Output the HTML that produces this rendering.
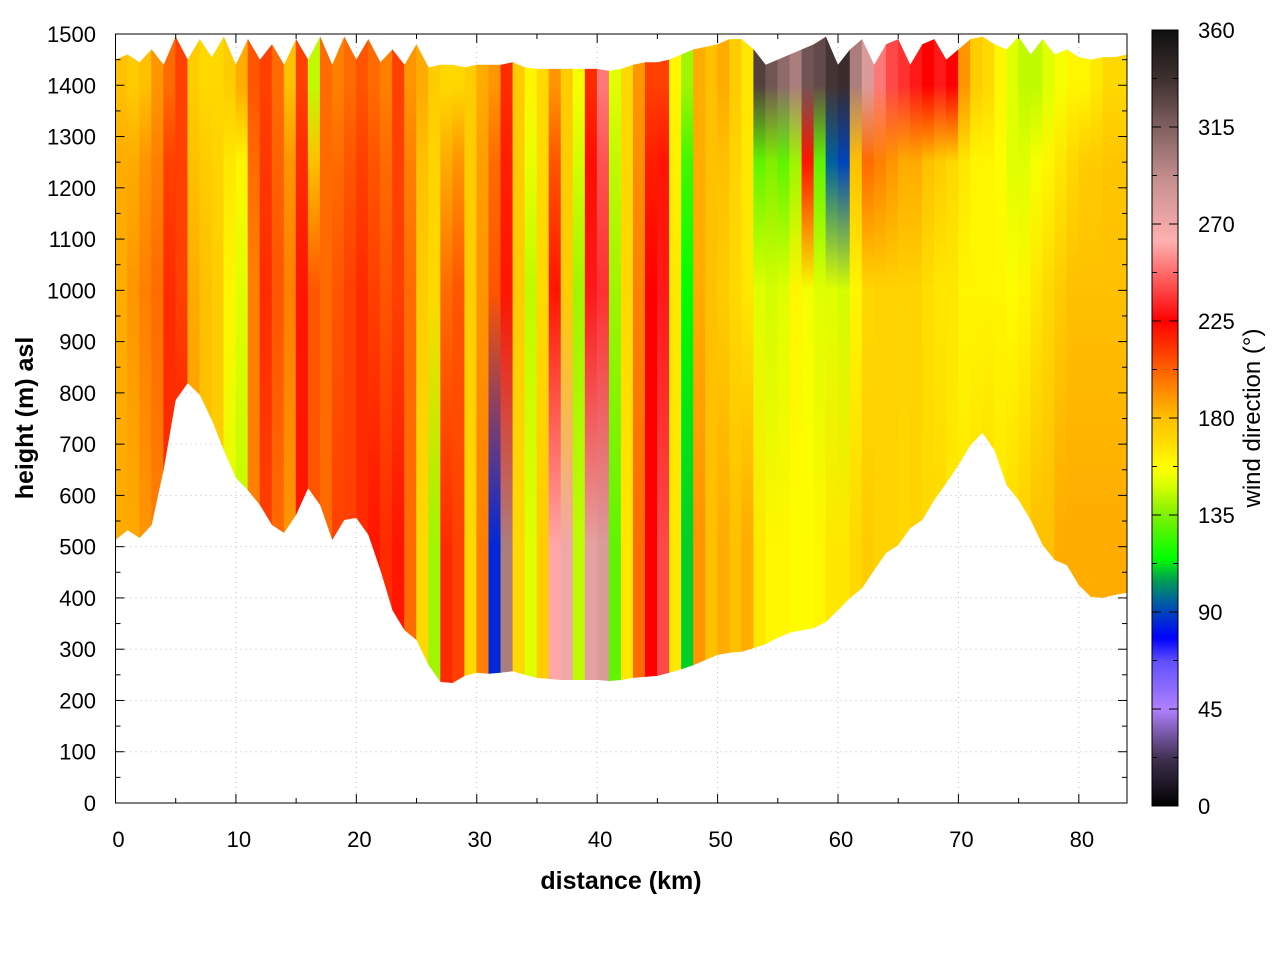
<!DOCTYPE html>
<html><head><meta charset="utf-8"><style>
body{margin:0;background:#fff;}
svg{display:block;font-family:"Liberation Sans",sans-serif;}
</style></head><body>
<svg id="chart" width="1280" height="960" viewBox="0 0 1280 960" xmlns="http://www.w3.org/2000/svg">
<defs id="defs"></defs>
<rect x="0" y="0" width="1280" height="960" fill="#fff"/>
<g id="grid"></g>
<g id="plot"></g>
<g id="axes"></g>
<g id="cbar"></g>
<text x="621" y="889" font-size="25" font-weight="bold" text-anchor="middle">distance (km)</text>
<text transform="translate(33,418) rotate(-90)" font-size="25" font-weight="bold" text-anchor="middle">height (m) asl</text>
<text transform="translate(1260,418) rotate(-90)" font-size="24" text-anchor="middle">wind direction (°)</text>
</svg>
<script>
const terrain=[513,532,517,542,650,786,819,796,747,688,634,610,581,542,527,562,614,581,513,552,556,523,454,376,337,318,269,236,234,248,254,252,254,257,250,244,242,240,240,240,240,238,240,244,246,248,254,261,269,279,289,293,295,302,310,322,332,337,341,353,376,400,419,454,488,503,536,552,591,624,659,698,722,688,620,591,552,503,474,464,425,402,400,406,410];
const topH=[1450,1460,1445,1470,1440,1495,1450,1490,1455,1495,1440,1490,1450,1480,1440,1490,1450,1495,1440,1495,1450,1490,1445,1470,1440,1480,1435,1440,1440,1435,1440,1440,1440,1445,1435,1432,1432,1432,1432,1432,1432,1428,1432,1440,1445,1445,1450,1460,1470,1475,1480,1490,1490,1470,1440,1450,1460,1470,1480,1495,1440,1470,1490,1440,1480,1490,1440,1480,1490,1450,1470,1490,1495,1480,1470,1495,1460,1490,1460,1470,1455,1450,1455,1455,1460];
const dirLow=[185,185,190,195,215,220,190,180,175,150,145,195,210,200,190,220,205,200,210,210,215,220,215,220,200,170,140,215,210,170,195,85,300,170,150,175,260,270,145,275,280,130,165,200,225,240,165,110,190,180,185,180,185,165,160,160,158,158,160,165,165,170,175,172,172,170,172,170,170,165,165,168,170,165,170,175,180,180,185,185,185,185,185,185];
const dirMid=[185,190,195,200,215,210,185,180,175,160,150,195,215,205,195,220,205,200,205,210,215,210,205,210,200,175,170,200,205,175,190,205,220,175,145,170,220,175,140,230,235,140,170,195,225,230,165,115,185,180,175,170,165,150,148,150,160,155,150,150,148,160,170,172,172,172,172,168,165,165,160,160,160,160,158,160,165,170,175,180,180,180,180,180];
const dirUpper=[185,185,190,195,210,210,180,175,172,165,160,200,212,202,190,215,180,200,200,205,210,205,200,210,195,180,172,185,190,175,188,200,218,175,152,170,205,175,148,222,242,145,170,192,218,220,162,125,185,180,180,172,165,130,135,130,140,220,130,95,90,180,200,195,190,185,185,180,175,170,165,160,160,158,150,150,155,160,165,170,175,175,178,178];
const dirHigh=[180,175,180,190,200,210,175,170,170,175,185,205,210,200,180,210,145,200,195,200,205,200,195,210,190,185,175,170,170,175,185,190,215,175,160,170,190,175,155,215,250,150,170,190,210,210,160,140,185,180,185,175,165,330,320,310,300,320,325,335,340,300,280,250,240,235,230,225,230,225,190,175,170,160,150,145,145,150,155,160,160,165,170,170];
const xTicks=[0,10,20,30,40,50,60,70,80];
const yTicks=[0,100,200,300,400,500,600,700,800,900,1000,1100,1200,1300,1400,1500];
const cbTicks=[0,45,90,135,180,225,270,315,360];

const X0=115.5,X1=1127,Y0=803,Y1=34,XMAX=84,YMAX=1500;
const xs=v=>X0+(X1-X0)*v/XMAX;
const ys=v=>Y0-(Y0-Y1)*v/YMAX;
const CB={x:1152,w:26,y0:806,y1:30};
const cbs=v=>CB.y0-(CB.y0-CB.y1)*v/360;
const NS="http://www.w3.org/2000/svg";
const cmap=[[0,'#000000'],[22,'#403050'],[45,'#b080ff'],[67,'#6050ff'],[78,'#0000ff'],[95,'#0060a0'],[105,'#00a050'],[115,'#00ff00'],[135,'#80f000'],[150,'#e0ff00'],[157,'#ffff00'],[170,'#ffd800'],[180,'#ffc000'],[195,'#ff8000'],[210,'#ff4000'],[225,'#ff0000'],[245,'#ff6060'],[262,'#ffb0b0'],[290,'#c89090'],[315,'#806060'],[337,'#403030'],[360,'#101010']];
function hex(h){return [1,3,5].map(i=>parseInt(h.substr(i,2),16));}
function color(v){v=Math.max(0,Math.min(360,v));for(let i=1;i<cmap.length;i++){if(v<=cmap[i][0]){const a=cmap[i-1],b=cmap[i];const t=(v-a[0])/(b[0]-a[0]);const ca=hex(a[1]),cb=hex(b[1]);return 'rgb('+ca.map((c,k)=>Math.round(c+(cb[k]-c)*t)).join(',')+')';}}return '#101010';}
function el(tag,attrs,parent){const e=document.createElementNS(NS,tag);for(const k in attrs)e.setAttribute(k,attrs[k]);parent.appendChild(e);return e;}
const defs=document.getElementById('defs');
// clip path terrain/top
let d='M'+xs(0)+','+ys(terrain[0]);
for(let i=1;i<terrain.length;i++)d+=' L'+xs(Math.min(i,XMAX))+','+ys(terrain[i]);
for(let i=topH.length-1;i>=0;i--)d+=' L'+xs(Math.min(i,XMAX))+','+ys(topH[i]);
d+='Z';
const cp=el('clipPath',{id:'domain'},defs);el('path',{d:d},cp);
// grid
const grid=document.getElementById('grid');
xTicks.forEach(v=>{if(v>0){const g=el('line',{x1:xs(v),x2:xs(v),y1:Y0,y2:Y1,stroke:'#bbb','stroke-width':1,'stroke-dasharray':'1,4'},grid);}});
yTicks.forEach(v=>{if(v>0&&v<YMAX){const g=el('line',{x1:X0,x2:X1,y1:ys(v),y2:ys(v),stroke:'#bbb','stroke-width':1,'stroke-dasharray':'1,4'},grid);}});
// heatmap columns
const plot=document.getElementById('plot');
const cg=el('g',{'clip-path':'url(#domain)'},plot);
const levels=[500,1000,1250,1400];
for(let i=0;i<dirLow.length;i++){
  const gid='col'+i;
  const lg=el('linearGradient',{id:gid,x1:0,y1:ys(0),x2:0,y2:ys(YMAX),gradientUnits:'userSpaceOnUse'},defs);
  const vals=[dirLow[i],dirMid[i],dirUpper[i],dirHigh[i]];
  levels.forEach((h,k)=>el('stop',{offset:h/YMAX,'stop-color':color(vals[k])},lg));
  const r=el('rect',{x:xs(i)-0.3,y:ys(YMAX),width:xs(i+1)-xs(i)+0.6,height:ys(0)-ys(YMAX),fill:'url(#'+gid+')'},cg);
  
  
}
// axes
const axes=document.getElementById('axes');
el('rect',{x:X0,y:Y1,width:X1-X0,height:Y0-Y1,fill:'none',stroke:'#000','stroke-width':1},axes);
for(let v=0;v<=XMAX;v+=5){const L=v%10==0?9:5;el('line',{x1:xs(v),x2:xs(v),y1:Y0,y2:Y0-L,stroke:'#000'},axes);el('line',{x1:xs(v),x2:xs(v),y1:Y1,y2:Y1+L,stroke:'#000'},axes);}
for(let v=0;v<=YMAX;v+=50){const L=v%100==0?9:5;el('line',{x1:X0,x2:X0+L,y1:ys(v),y2:ys(v),stroke:'#000'},axes);el('line',{x1:X1,x2:X1-L,y1:ys(v),y2:ys(v),stroke:'#000'},axes);}
xTicks.forEach(v=>{const t=el('text',{x:xs(v)+3,y:847,'font-size':22,'text-anchor':'middle'},axes);t.textContent=v;});
yTicks.forEach(v=>{const t=el('text',{x:96,y:ys(v)+8,'font-size':22,'text-anchor':'end'},axes);t.textContent=v;});
// colorbar
const cbar=document.getElementById('cbar');
const cbg=el('linearGradient',{id:'cbgrad',x1:0,y1:1,x2:0,y2:0},defs);
cmap.forEach(s=>el('stop',{offset:s[0]/360,'stop-color':s[1]},cbg));
el('rect',{x:CB.x,y:CB.y1,width:CB.w,height:CB.y0-CB.y1,fill:'url(#cbgrad)',stroke:'#000'},cbar);
for(let v=0;v<=360;v+=22.5){const L=v%45==0?9:5;el('line',{x1:CB.x,x2:CB.x+L,y1:cbs(v),y2:cbs(v),stroke:'#000'},cbar);el('line',{x1:CB.x+CB.w,x2:CB.x+CB.w-L,y1:cbs(v),y2:cbs(v),stroke:'#000'},cbar);}
cbTicks.forEach(v=>{const t=el('text',{x:1198,y:cbs(v)+8,'font-size':22},cbar);t.textContent=v;});
</script>
</body></html>
